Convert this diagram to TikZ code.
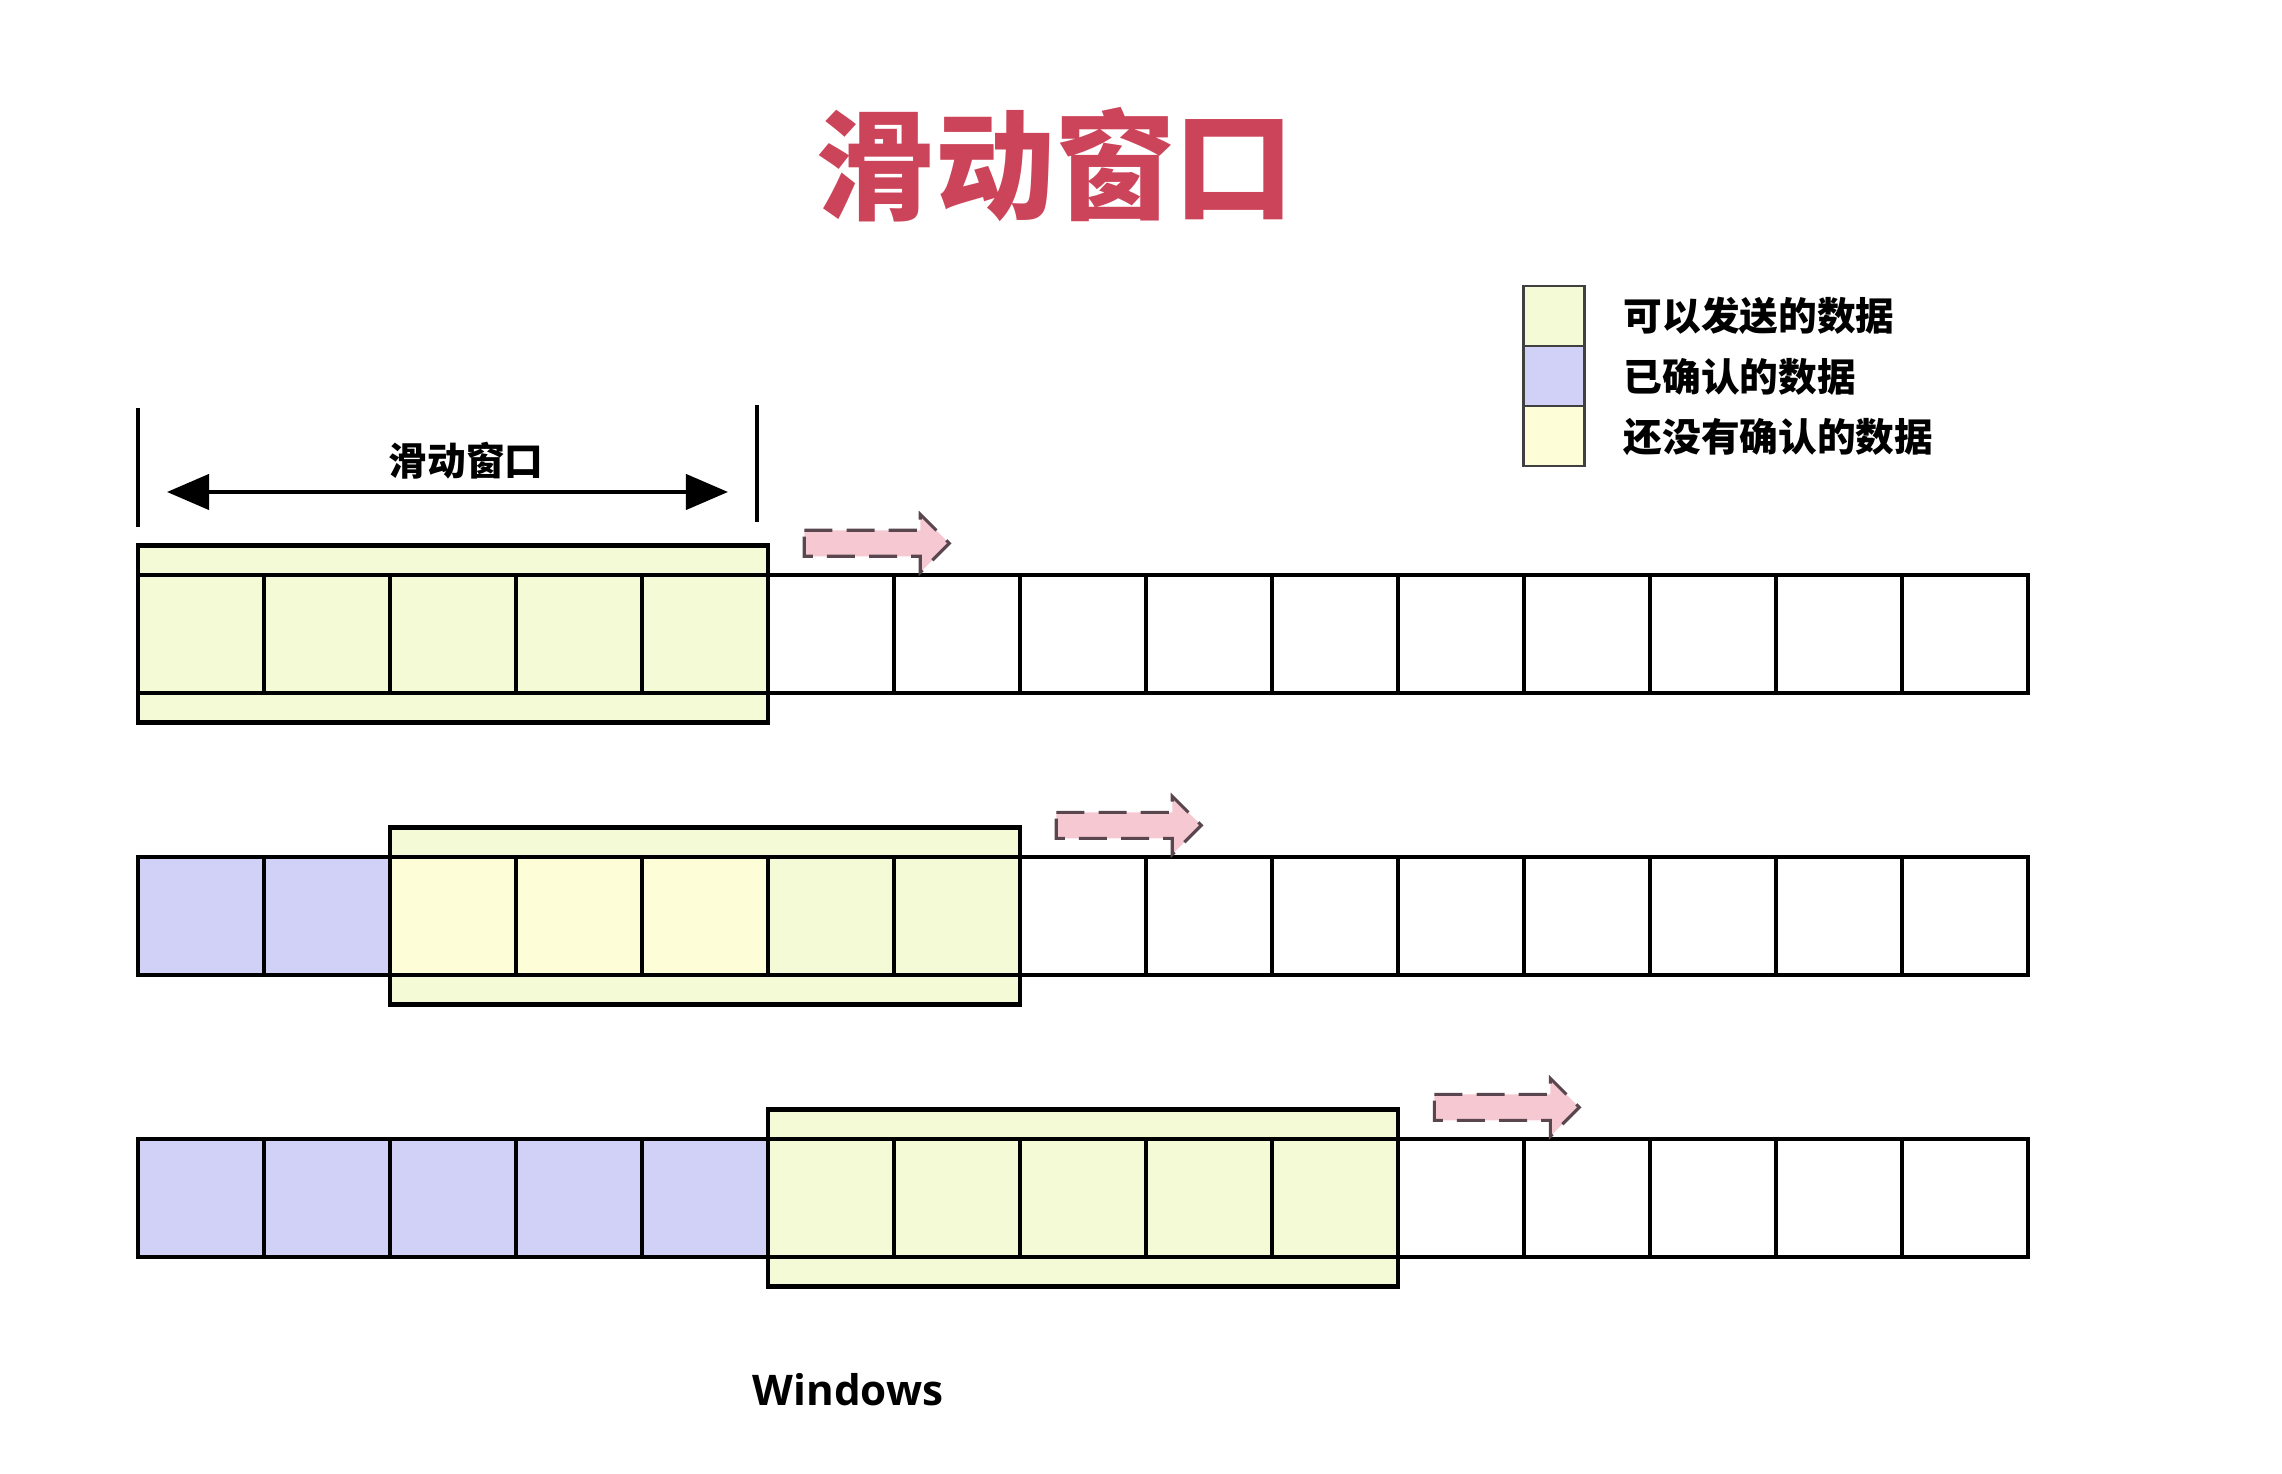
\documentclass[tikz,border=0pt]{standalone}
\usepackage{fontspec}
\setmainfont{Open Sans}
\newfontfamily\cjk{Noto Sans CJK SC}
\definecolor{titlered}{RGB}{204, 68, 90}
\definecolor{sendok}{RGB}{244, 250, 214}
\definecolor{acked}{RGB}{209, 208, 246}
\definecolor{waiting}{RGB}{253, 253, 216}
\definecolor{movepink}{RGB}{246, 200, 210}
\definecolor{movegray}{RGB}{90, 70, 78}
\usetikzlibrary{arrows.meta, positioning}

\tikzset{
  cell/.style={draw=black, line width=1.2pt, minimum width=1.26cm, minimum height=1.18cm, inner sep=0pt, fill=white},
  winband/.style={draw=black, line width=1.2pt, fill=sendok, minimum width=6.3cm, minimum height=1.77cm, inner sep=0pt},
  legbox/.style={draw=black!75, line width=0.8pt, minimum width=0.61cm, minimum height=0.6cm, inner sep=0pt, outer sep=0pt},
  legtext/.style={anchor=west, font=\cjk\bfseries\fontsize{11}{13}\selectfont, inner sep=0pt},
  movearrow/.pic={
    \draw[movegray, fill=movepink, line width=0.9pt, dash pattern=on 8pt off 4pt, line join=miter]
      (0,-13) -- (116,-13) -- (116,-29) -- (145,0) -- (116,29) -- (116,13) -- (0,13) -- cycle;
  }
}

\begin{document}
\begin{tikzpicture}[x=0.01cm, y=-0.01cm]
  \useasboundingbox (0,0) rectangle (2282,1474);

  % title
  \node[text=titlered, font=\cjk\bfseries\fontsize{34}{40}\selectfont] (title) at (1055,165) {滑动窗口};

  % legend
  \node[legbox, fill=sendok] (lg1) at (1554,316) {};
  \node[legbox, fill=acked, below=0pt of lg1] (lg2) {};
  \node[legbox, fill=waiting, below=0pt of lg2] (lg3) {};
  \node[legtext] (lt1) at (1623,316) {可以发送的数据};
  \node[legtext] (lt2) at (1623,377) {已确认的数据};
  \node[legtext] (lt3) at (1623,437) {还没有确认的数据};

  % window span
  \coordinate (spanLt) at (138,408);
  \coordinate (spanLb) at (138,527);
  \coordinate (spanRt) at (757,405);
  \coordinate (spanRb) at (757,522);
  \coordinate (spanA) at (167,492);
  \coordinate (spanB) at (728,492);
  \draw[line width=1.2pt] (spanLt) -- (spanLb);
  \draw[line width=1.2pt] (spanRt) -- (spanRb);
  \draw[line width=1.2pt, {Triangle[length=12pt, width=10pt]}-{Triangle[length=12pt, width=10pt]}] (spanA) -- (spanB);
  \node[font=\cjk\bfseries\fontsize{11}{13}\selectfont] (spanlbl) at (466,461) {滑动窗口};

  % row 1
  \node[winband] (w1) at (453,634) {};
  \foreach \i in {0,...,4}
    \node[cell, fill=sendok] (a\i) at ({201+126*\i},634) {};
  \foreach \i in {5,...,14}
    \node[cell] (a\i) at ({201+126*\i},634) {};
  \pic at ([xshift=0.34cm]w1.north east) {movearrow};

  % row 2
  \node[winband] (w2) at (705,916) {};
  \foreach \i in {0,1}
    \node[cell, fill=acked] (b\i) at ({201+126*\i},916) {};
  \foreach \i in {2,3,4}
    \node[cell, fill=waiting] (b\i) at ({201+126*\i},916) {};
  \foreach \i in {5,6}
    \node[cell, fill=sendok] (b\i) at ({201+126*\i},916) {};
  \foreach \i in {7,...,14}
    \node[cell] (b\i) at ({201+126*\i},916) {};
  \pic at ([xshift=0.34cm]w2.north east) {movearrow};

  % row 3
  \node[winband] (w3) at (1083,1198) {};
  \foreach \i in {0,...,4}
    \node[cell, fill=acked] (c\i) at ({201+126*\i},1198) {};
  \foreach \i in {5,...,9}
    \node[cell, fill=sendok] (c\i) at ({201+126*\i},1198) {};
  \foreach \i in {10,...,14}
    \node[cell] (c\i) at ({201+126*\i},1198) {};
  \pic at ([xshift=0.34cm]w3.north east) {movearrow};

  \node[font=\bfseries\fontsize{12}{14}\selectfont] (winlbl) at (848,1390) {Windows};
\end{tikzpicture}
\end{document}
